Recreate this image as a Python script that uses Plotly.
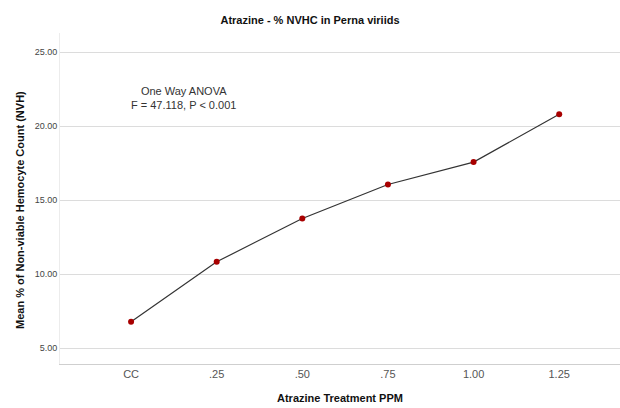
import plotly.graph_objects as go

categories = ["CC", ".25", ".50", ".75", "1.00", "1.25"]
mean_nvh = [6.78, 10.83, 13.76, 16.06, 17.57, 20.81]
y_tick_vals = [5, 10, 15, 20, 25]
y_tick_text = ["5.00", "10.00", "15.00", "20.00", "25.00"]

FONT = "Liberation Sans, Arial, sans-serif"
L, R, T, B = 60, 0, 33, 44
W, H = 620, 408
PW, PH = W - L - R, H - T - B

fig = go.Figure()
fig.add_trace(go.Scatter(
    x=list(range(len(categories))), y=mean_nvh, mode="lines+markers",
    line=dict(color="#333333", width=1.2),
    marker=dict(color="#a80000", size=6),
    showlegend=False,
))

fig.update_layout(
    width=W, height=H,
    margin=dict(l=L, r=R, t=T, b=B),
    paper_bgcolor="white", plot_bgcolor="white",
    font=dict(family=FONT, color="#222222"),
    title=dict(text="<b>Atrazine - % NVHC in Perna viriids</b>", x=0.5, xanchor="center",
               y=1 - 20/H, yanchor="middle", font=dict(size=11, color="#111111")),
    xaxis=dict(
        range=[-0.83, 5.71], tickmode="array",
        tickvals=list(range(len(categories))), ticktext=categories,
        showgrid=False, zeroline=False, showline=True, linecolor="#cfcfcf", linewidth=1,
        ticks="", tickfont=dict(size=11, color="#555555"), automargin=False,
    ),
    yaxis=dict(
        range=[3.92, 26.3], tickmode="array", tickvals=y_tick_vals, ticktext=y_tick_text,
        showgrid=True, gridcolor="#dcdcdc", gridwidth=1, zeroline=False,
        showline=True, linecolor="#ececec", linewidth=1,
        ticks="", tickfont=dict(size=9, color="#444444"), automargin=False,
    ),
    annotations=[
        dict(text="One Way ANOVA<br>F = 47.118, P < 0.001",
             x=(183 - L) / PW, y=1 - (98 - T) / PH, xref="paper", yref="paper",
             xanchor="center", yanchor="middle",
             showarrow=False, font=dict(size=11, color="#333333"), align="center"),
        dict(text="<b>Atrazine Treatment PPM</b>",
             x=(340 - L) / PW, y=1 - (398 - T) / PH, xref="paper", yref="paper",
             xanchor="center", yanchor="middle",
             showarrow=False, font=dict(size=11, color="#111111")),
        dict(text="<b>Mean % of Non-viable Hemocyte Count (NVH)</b>",
             x=(20 - L) / PW, y=1 - (210 - T) / PH, xref="paper", yref="paper",
             xanchor="center", yanchor="middle", textangle=-90,
             showarrow=False, font=dict(size=11, color="#111111")),
    ],
)

fig.write_html(
    "out.html",
    config={"displayModeBar": False},
    post_script="document.body.style.margin='0';document.body.style.overflow='hidden';document.documentElement.style.overflow='hidden';",
)
